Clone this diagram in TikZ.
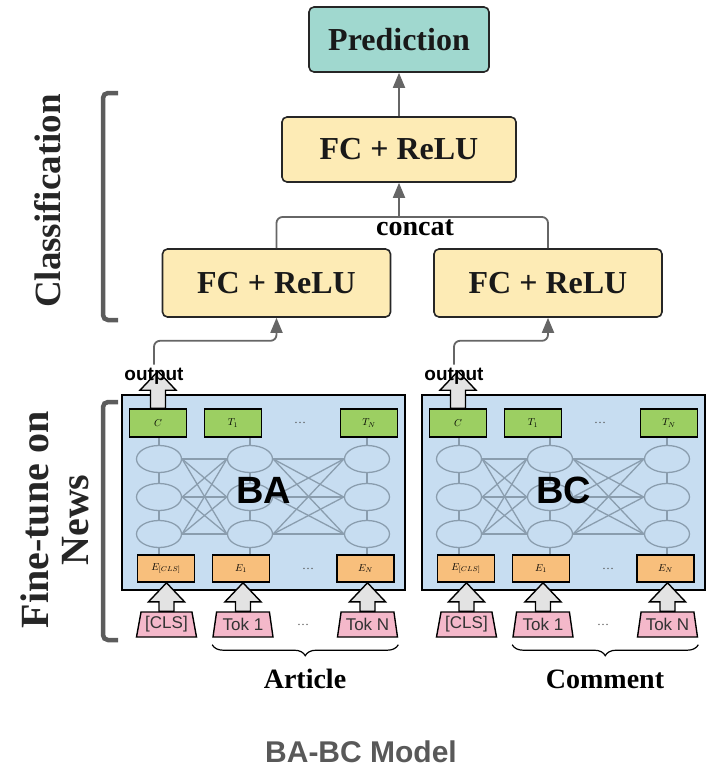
\documentclass[tikz,border=0pt]{standalone}
\usepackage{fontspec}
\setmainfont{Liberation Serif}
\setsansfont{Liberation Sans}
\usepackage{tikz}
\usetikzlibrary{positioning,arrows.meta,shapes.geometric,decorations.pathreplacing,calc}
\definecolor{predfill}{HTML}{A0D8CF}
\definecolor{fcfill}{HTML}{FDEBB5}
\definecolor{bertfill}{HTML}{C7DDF1}
\definecolor{greenfill}{HTML}{9CCF62}
\definecolor{orangefill}{HTML}{F8BF7C}
\definecolor{pinkfill}{HTML}{F4B8CA}
\definecolor{nncol}{HTML}{8A9DAE}
\definecolor{conngray}{HTML}{666666}
\definecolor{arrowfill}{HTML}{E3E3E3}
\definecolor{bracketgray}{HTML}{5C5C5C}
\definecolor{titlegray}{HTML}{595959}
\newcommand{\fatarrow}[2]{%
  \draw[fatarr] let \p1=(#1), \p2=(#2) in
    (\x1-7.5pt,\y1) -- (\x1-7.5pt,\y2-19pt) -- (\x1-18pt,\y2-19pt) -- (\x1,\y2)
    -- (\x1+18pt,\y2-19pt) -- (\x1+7.5pt,\y2-19pt) -- (\x1+7.5pt,\y1) -- cycle;%
}

\begin{document}
\begin{tikzpicture}[x=1pt, y=-1pt,
    box/.style={draw=black!85, line width=1.6pt, rounded corners=5pt, inner sep=0pt, text=black!90},
    predbox/.style={box, fill=predfill, minimum width=180pt, minimum height=65pt, font=\fontsize{32}{36}\selectfont\bfseries},
    fcbox/.style={box, fill=fcfill, minimum width=228pt, minimum height=68pt, font=\fontsize{32}{36}\selectfont\bfseries},
    conn/.style={draw=conngray, line width=1.8pt},
    carrow/.style={conn, -{Triangle[length=15pt,width=12pt]}},
    bertbox/.style={draw=black, line width=1.6pt, fill=bertfill},
    outbox/.style={draw=black, line width=1.6pt, fill=greenfill, minimum width=57pt, minimum height=28pt, inner sep=0pt, font=\fontsize{10}{12}\selectfont},
    embbox/.style={outbox, fill=orangefill, minimum height=27pt},
    neuron/.style={ellipse, draw=nncol, line width=1.3pt, fill=bertfill, minimum width=45pt, minimum height=27pt, inner sep=0pt},
    nnline/.style={draw=nncol, line width=1.3pt},
    tokbox/.style={trapezium, trapezium angle=74, trapezium stretches body, draw=black, line width=1.4pt, fill=pinkfill, minimum width=60pt, minimum height=25pt, inner sep=0pt, font=\sffamily\fontsize{17}{19}\selectfont, text=black!80},
    fatarr/.style={draw=black, line width=1.4pt, fill=arrowfill, line join=miter},
    dotsl/.style={font=\fontsize{12}{14}\selectfont, text=black!70},
    bigname/.style={font=\sffamily\bfseries\fontsize{38}{42}\selectfont},
    outlbl/.style={font=\sffamily\bfseries\fontsize{19}{21}\selectfont, inner sep=0pt},
    seclbl/.style={font=\bfseries\fontsize{28}{32}\selectfont},
    brc/.style={draw=black, line width=1.2pt, decorate, decoration={brace, mirror, amplitude=11pt}},
    bracket/.style={draw=bracketgray, line width=4.5pt, rounded corners=5pt},
    sidelbl/.style={rotate=90, align=center, font=\bfseries\fontsize{37}{40}\selectfont, text=black!85},
    title/.style={font=\sffamily\bfseries\fontsize{30}{34}\selectfont, text=titlegray}]
  \useasboundingbox (0,0) rectangle (708,774);

  \node[predbox] (pred) at (399,39.5) {Prediction};
  \node[fcbox, minimum width=234pt, minimum height=65pt] (fc-top) at (399,149.5) {FC + ReLU};
  \node[fcbox] (fc-a) at (276.5,283) {FC + ReLU};
  \node[fcbox] (fc-c) at (548,283) {FC + ReLU};
  \coordinate (cat) at (399,217);
  \draw[carrow] (fc-top) -- (pred);
  \draw[conn, rounded corners=6pt] (fc-a.north) |- (cat) -| (fc-c.north);
  \draw[carrow] (cat) -- (fc-top);
  \node[seclbl] (cat-lbl) at (415,228) {concat};

  \foreach \dx/\bk/\nm/\lbl in {0/a/BA/Article,300/c/BC/Comment}{
    \node[bertbox, minimum width=283pt, minimum height=195pt] (\bk-box) at (263.5+\dx,492.5) {};
    \node[outbox] (\bk-c) at (158+\dx,423) {$C$};
    \node[outbox] (\bk-t1) at (233+\dx,423) {$T_1$};
    \node[outbox] (\bk-tn) at (369+\dx,423) {$T_N$};
    \node[dotsl] (\bk-tdots) at (300+\dx,423) {\dots};
    \node[embbox] (\bk-emb0) at (166+\dx,568.5) {$E_{[CLS]}$};
    \node[embbox] (\bk-emb1) at (241+\dx,568.5) {$E_1$};
    \node[embbox] (\bk-embn) at (365.5+\dx,568.5) {$E_N$};
    \node[dotsl] (\bk-edots) at (308+\dx,569) {\dots};
    \foreach \i/\ex in {1/159,2/250,3/367}
      \foreach \j/\ey in {1/459,2/497,3/534}
        \node[neuron] (\bk-n\i\j) at (\ex+\dx,\ey) {};
    \foreach \i/\k in {1/2,2/3}
      \foreach \j in {1,2,3}
        \foreach \m in {1,2,3}
          \draw[nnline] (\bk-n\i\j.east) -- (\bk-n\k\m.west);
    \foreach \i/\up/\dn in {1/c/emb0,2/t1/emb1,3/tn/embn}{
      \draw[nnline] (\bk-n\i1.north) -- (\bk-n\i1.north |- \bk-\up.south);
      \draw[nnline] (\bk-n\i1) -- (\bk-n\i2) -- (\bk-n\i3);
      \draw[nnline] (\bk-n\i3.south) -- (\bk-n\i3.south |- \bk-\dn.north);
    }
    \node[bigname] (\bk-name) at (264+\dx,490) {\nm};

    \node[tokbox] (\bk-tok0) at (166.5+\dx,624.5) {[CLS]};
    \node[tokbox] (\bk-tok1) at (243+\dx,624.5) {Tok 1};
    \node[tokbox] (\bk-tokn) at (367.5+\dx,624.5) {Tok N};
    \node[dotsl] (\bk-kdots) at (303+\dx,625) {\dots};
    \fatarrow{\bk-tok0.north}{\bk-emb0.south}
    \fatarrow{\bk-tok1.north}{\bk-emb1.south}
    \fatarrow{\bk-tokn.north}{\bk-embn.south}

    \coordinate (\bk-tip) at ([yshift=37pt]\bk-c.north);
    \fatarrow{\bk-c.north}{\bk-tip}
    \node[outlbl] (\bk-out) at (154+\dx,376) {output};
    \draw[carrow, rounded corners=6pt] ([yshift=3pt]\bk-out.north) |- ([yshift=-23pt]fc-\bk.south) -- (fc-\bk.south);

    \draw[brc] ([yshift=-7pt]\bk-tok1.bottom left corner) -- ([yshift=-7pt]\bk-tokn.bottom right corner);
    \node[seclbl] (\bk-lbl) at (305+\dx,679) {\lbl};
  }

  \draw[bracket] (118,93) -| (103,320) -- (118,320);
  \draw[bracket] (118,402) -| (103,640) -- (118,640);
  \node[sidelbl] (cls-lbl) at (48,201) {Classification};
  \node[sidelbl, font=\bfseries\fontsize{40}{40}\selectfont] (ft-lbl) at (55,520) {Fine-tune on\\News};

  \node[title] (model) at (361,752) {BA-BC Model};
\end{tikzpicture}
\end{document}
